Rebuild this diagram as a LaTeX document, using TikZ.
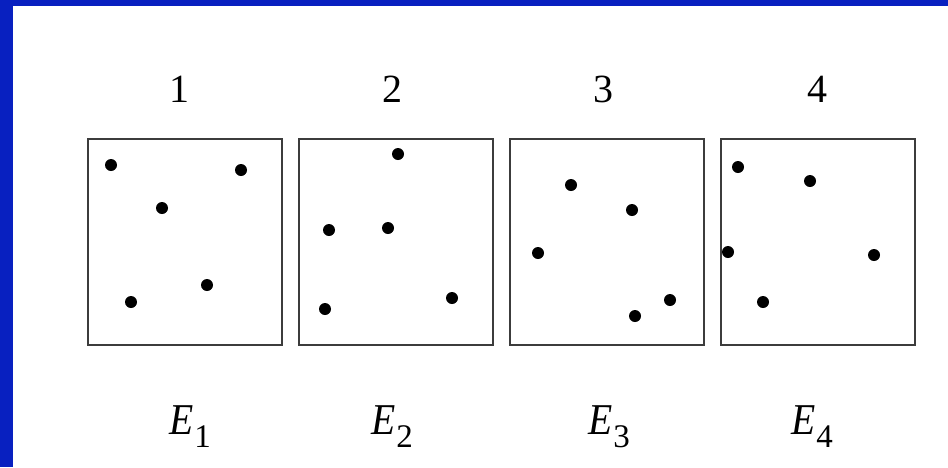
\documentclass[tikz,border=0pt]{standalone}
\usepackage{fontspec}
\setmainfont{Liberation Serif}
\definecolor{bgblue}{RGB}{8,32,192}
\definecolor{boxgray}{RGB}{60,60,60}
\begin{document}
\begin{tikzpicture}[x=1pt,y=-1pt,
  panel/.style={draw=boxgray, line width=1.6pt, minimum width=194pt, minimum height=206pt, inner sep=0pt, anchor=north west},
  pt/.style={circle, fill=black, inner sep=0pt, minimum size=12pt},
  num/.style={font=\fontsize{40}{40}\selectfont, inner sep=0pt, anchor=base},
  elab/.style={font=\fontsize{44}{44}\selectfont\itshape, inner sep=0pt, anchor=base west}]
\fill[bgblue] (0,0) rectangle (948,467);
\fill[white] (13,6) rectangle (948,467);
\useasboundingbox (0,0) rectangle (948,467);
% panels
\node[panel] (b1) at (87,138) {};
\node[panel] (b2) at (298,138) {};
\node[panel] (b3) at (509,138) {};
\node[panel] (b4) at (720,138) {};
% numbers
\node[num] (n1) at (179,102) {1};
\node[num] (n2) at (392,102) {2};
\node[num] (n3) at (603,102) {3};
\node[num] (n4) at (817,102) {4};
% labels
\newcommand{\elabsub}[1]{\kern1pt\raisebox{-13pt}{\fontsize{33}{33}\selectfont\upshape #1}}
\node[elab] (e1) at (169,434) {\scalebox{0.9}[1]{E}\elabsub{1}};
\node[elab] (e2) at (371,434) {\scalebox{0.9}[1]{E}\elabsub{2}};
\node[elab] (e3) at (588,434) {\scalebox{0.9}[1]{E}\elabsub{3}};
\node[elab] (e4) at (791,434) {\scalebox{0.9}[1]{E}\elabsub{4}};
% dots panel 1
\node[pt] (d11) at (111,165) {};
\node[pt] (d12) at (241,170) {};
\node[pt] (d13) at (162,208) {};
\node[pt] (d14) at (207,285) {};
\node[pt] (d15) at (131,302) {};
% dots panel 2
\node[pt] (d21) at (398,154) {};
\node[pt] (d22) at (329,230) {};
\node[pt] (d23) at (388,228) {};
\node[pt] (d24) at (325,309) {};
\node[pt] (d25) at (452,298) {};
% dots panel 3
\node[pt] (d31) at (571,185) {};
\node[pt] (d32) at (632,210) {};
\node[pt] (d33) at (538,253) {};
\node[pt] (d34) at (670,300) {};
\node[pt] (d35) at (635,316) {};
% dots panel 4
\node[pt] (d41) at (738,167) {};
\node[pt] (d42) at (810,181) {};
\node[pt] (d43) at (728,252) {};
\node[pt] (d44) at (874,255) {};
\node[pt] (d45) at (763,302) {};
\end{tikzpicture}
\end{document}
